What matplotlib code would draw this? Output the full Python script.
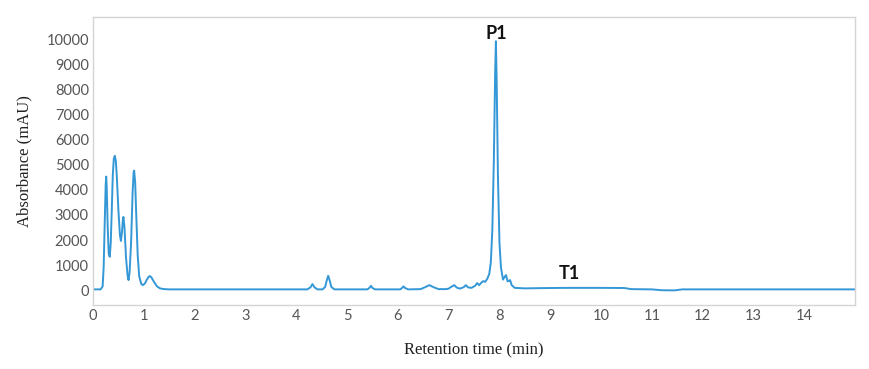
import matplotlib
matplotlib.use("Agg")
import matplotlib.pyplot as plt

# Chromatogram trace (retention time in min, absorbance in mAU)
retention_time = [
    0.00, 0.15, 0.19, 0.21, 0.23, 0.25, 0.26, 0.27, 0.29, 0.31, 0.33, 0.35, 0.37, 0.39,
    0.41, 0.43, 0.45, 0.47, 0.50, 0.53, 0.55, 0.57, 0.59, 0.60, 0.62, 0.65, 0.68, 0.70,
    0.72, 0.75, 0.78, 0.80, 0.81, 0.83, 0.85, 0.88, 0.91, 0.95, 0.98, 1.02, 1.06, 1.10,
    1.12, 1.15, 1.20, 1.26, 1.32, 1.40, 1.50,
    4.22, 4.28, 4.32, 4.36, 4.42,
    4.52, 4.57, 4.60, 4.63, 4.66, 4.69, 4.75,
    5.40, 5.44, 5.47, 5.50, 5.55,
    6.05, 6.09, 6.11, 6.14, 6.20,
    6.45, 6.55, 6.62, 6.70, 6.80,
    6.95, 7.00, 7.05, 7.11, 7.16, 7.22, 7.30, 7.34, 7.38, 7.45, 7.52, 7.56, 7.60, 7.64,
    7.68, 7.72, 7.76, 7.80, 7.83, 7.86, 7.89, 7.915, 7.93, 7.945, 7.97, 8.00, 8.03, 8.07,
    8.11, 8.13, 8.16, 8.19, 8.21, 8.24, 8.30, 8.50, 8.80, 9.30, 10.00, 10.45, 10.60,
    11.00, 11.20, 11.45, 11.60, 12.00, 15.00,
]
absorbance = [
    30, 30, 150, 900, 2600, 4200, 4530, 4100, 2500, 1450, 1330, 1900, 3200, 4600,
    5250, 5360, 5150, 4500, 3200, 2200, 1960, 2300, 2850, 2920, 2500, 1300, 600, 400,
    700, 1900, 3900, 4700, 4770, 4300, 3100, 1400, 550, 250, 200, 260, 420, 540,
    560, 510, 330, 150, 70, 40, 30,
    30, 110, 240, 110, 30,
    30, 130, 380, 570, 380, 130, 30,
    30, 90, 170, 90, 30,
    30, 100, 150, 90, 30,
    40, 130, 200, 120, 40,
    40, 60, 130, 200, 100, 60, 120, 200, 110, 90, 170, 280, 200, 290,
    360, 330, 450, 650, 1100, 2400, 5200, 8600, 9930, 8400, 4600, 1900, 900, 420,
    550, 600, 350, 380, 400, 200, 90, 70, 80, 90, 90, 85, 40,
    30, -5, -10, 30, 30, 30,
]

peak_labels = ["P1", "T1"]
peak_label_time = [7.94, 9.37]
peak_label_abs = [10250, 680]

x_ticks = list(range(0, 15))
y_ticks = list(range(0, 10001, 1000))

LINE_COLOR = "#3497d6"
GRID_GRAY = "#d4d4d4"


def main() -> None:
    fig = plt.figure(figsize=(8.69, 3.69), dpi=100)
    ax = fig.add_axes([0.107, 0.173, 0.877, 0.781])

    ax.plot(retention_time, absorbance, color=LINE_COLOR, linewidth=1.4)

    for label, t, a in zip(peak_labels, peak_label_time, peak_label_abs):
        ax.text(t, a, label, ha="center", va="center", fontsize=13,
                fontweight="bold", family="Lato", color="#111111")

    ax.set_xlim(0, 15)
    ax.set_ylim(-600, 10900)
    ax.set_xticks(x_ticks)
    ax.set_yticks(y_ticks)

    for spine in ax.spines.values():
        spine.set_color(GRID_GRAY)
        spine.set_linewidth(1.0)

    ax.tick_params(length=0, pad=3, labelsize=10.5, labelcolor="#555555")
    for lbl in ax.get_xticklabels() + ax.get_yticklabels():
        lbl.set_family("Lato")

    ax.set_xlabel("Retention time (min)", family="Liberation Serif", fontsize=12,
                  labelpad=14, color="#222222")
    ax.set_ylabel("Absorbance (mAU)", family="Liberation Serif", fontsize=12,
                  labelpad=10, color="#222222")

    fig.savefig("out.png", dpi=100)
    plt.close(fig)


if __name__ == "__main__":
    main()
